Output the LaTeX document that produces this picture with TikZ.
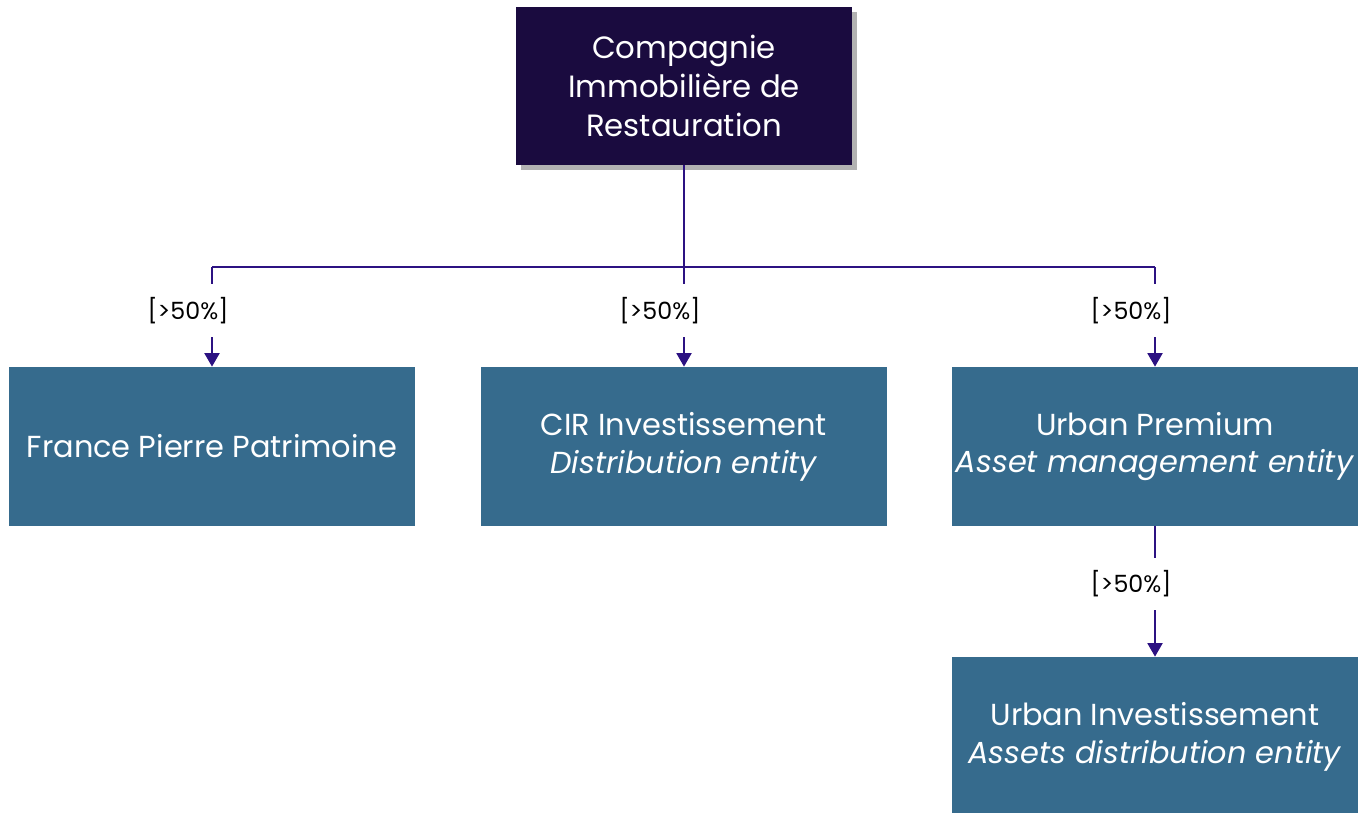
\documentclass[tikz,border=0pt]{standalone}
\usepackage{fontspec}
\setmainfont{Poppins}
\usepackage{tikz}
\usetikzlibrary{arrows.meta, positioning, shadows}
\definecolor{HoldingNavy}{HTML}{1A0B3F}
\definecolor{EntityBlue}{HTML}{366B8D}
\definecolor{LinkPurple}{HTML}{2C1282}
\tikzset{
  % Box styles
  holdingbox/.style={rectangle, draw=none, fill=HoldingNavy, text=white, minimum width=6.72cm, minimum height=3.16cm, font=\fontsize{17.5}{22}\selectfont, align=center, drop shadow={shadow xshift=3pt, shadow yshift=-3pt, opacity=0.3, fill=black}},
  entitybox/.style={rectangle, draw=none, fill=EntityBlue, text=white, minimum width=8.12cm, minimum height=3.18cm, inner xsep=0pt, font=\fontsize{17.3}{21.5}\selectfont, align=center},
  sharelabel/.style={font=\fontsize{13.5}{15}\selectfont, minimum height=1.06cm, inner sep=0pt},
  % Arrow styles
  link/.style={draw=LinkPurple, line width=1.1pt},
  arrow/.style={link, -{Triangle[width=0.3cm, length=0.27cm]}}
}

\begin{document}
\begin{tikzpicture}
  \useasboundingbox (0,0) rectangle (27.22,-16.26);

  % Parent company
  \node[holdingbox] (cir) at (13.68,-1.72) {Compagnie\\Immobilière de\\Restauration};

  % Subsidiaries
  \node[entitybox] (fpp) at (4.24,-8.93) {France Pierre Patrimoine};
  \node[entitybox] (cirinv) at (13.68,-8.93) {CIR Investissement\\\textit{Distribution entity}};
  \node[entitybox] (urbprem) at (23.10,-8.93) {Urban Premium\\\textit{Asset management entity}};
  \node[entitybox] (urbinv) at (23.10,-14.73) {Urban Investissement\\\textit{Assets distribution entity}};

  % Ownership labels
  \node[sharelabel] (p1) at (3.76,-6.21) {[>50\%]};
  \node[sharelabel] (p2) at (13.20,-6.21) {[>50\%]};
  \node[sharelabel] (p3) at (22.62,-6.21) {[>50\%]};
  \node[sharelabel, minimum height=1.04cm] (p4) at (22.62,-11.68) {[>50\%]};

  % Bus line
  \coordinate (bus) at (0,-5.34);
  \draw[link] (cir.south) -- (cir.south |- bus);
  \draw[link] (fpp.north |- bus) -- (urbprem.north |- bus);

  % Drops to each entity
  \foreach \ent/\lab in {fpp/p1, cirinv/p2, urbprem/p3} {
    \draw[link] (\ent.north |- bus) -- (\ent.north |- \lab.north);
    \draw[arrow] (\ent.north |- \lab.south) -- (\ent.north);
  }
  \draw[link] (urbprem.south) -- (urbprem.south |- p4.north);
  \draw[arrow] (urbinv.north |- p4.south) -- (urbinv.north);
\end{tikzpicture}
\end{document}
